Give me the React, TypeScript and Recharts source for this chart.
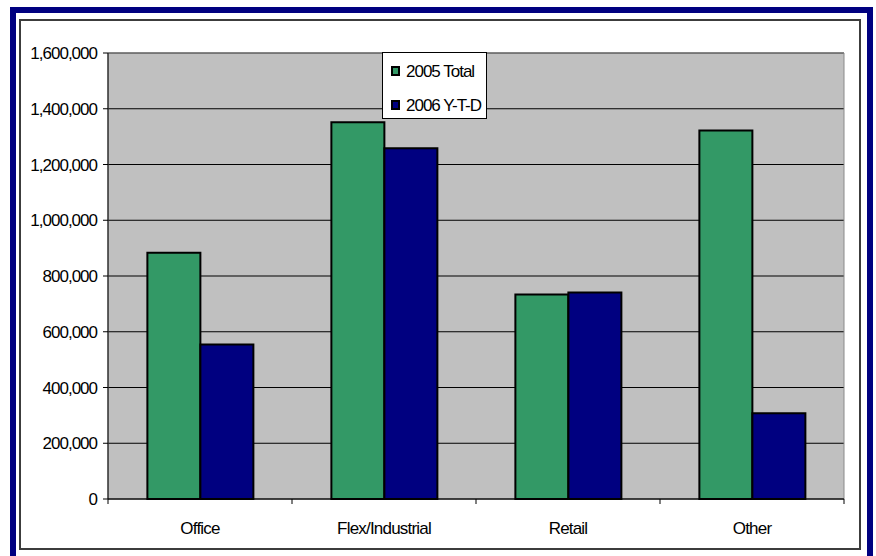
import React from "react";
import {
  BarChart,
  Bar,
  XAxis,
  YAxis,
  CartesianGrid,
  Legend,
  ReferenceArea,
} from "recharts";

const categories = ["Office", "Flex/Industrial", "Retail", "Other"];
const total2005 = [883000, 1352000, 734000, 1322000];
const ytd2006 = [554000, 1258000, 741000, 308000];
const yTicks = [0, 200000, 400000, 600000, 800000, 1000000, 1200000, 1400000, 1600000];
const seriesNames = ["2005 Total", "2006 Y-T-D"];

const COLORS = { total: "#339966", ytd: "#000080" };

const chartData = categories.map((name, i) => ({
  name,
  total: total2005[i],
  ytd: ytd2006[i],
}));

const FONT = '"Liberation Sans", Arial, sans-serif';

// category label in the middle, tick marks on the category edges (Excel style)
function CategoryTick(props: any) {
  const { x, y, payload, index } = props;
  const half = payload && payload.offset ? payload.offset : 92;
  const isLast = index === categories.length - 1;
  return (
    <g>
      <line x1={x - half} y1={y} x2={x - half} y2={y + 5} stroke="#000" />
      {isLast && <line x1={x + half} y1={y} x2={x + half} y2={y + 5} stroke="#000" />}
      <text
        x={x}
        y={y + 29}
        textAnchor="middle"
        dominantBaseline="central"
        fontSize={17}
        letterSpacing={-0.8}
        fill="#000"
        fontFamily={FONT}
      >
        {payload.value}
      </text>
    </g>
  );
}

function LegendBox({ payload }: any) {
  return (
    <div
      style={{
        width: 105,
        height: 67,
        boxSizing: "border-box",
        background: "#fff",
        border: "1px solid #000",
        paddingTop: 1,
        fontFamily: FONT,
      }}
    >
      {(payload || []).map((entry: any) => (
        <div
          key={entry.value}
          style={{ height: 34, display: "flex", alignItems: "center", paddingLeft: 8 }}
        >
          <span
            style={{
              width: 9,
              height: 10,
              boxSizing: "border-box",
              border: "2px solid #000",
              background: entry.color,
              marginRight: 6,
              flexShrink: 0,
            }}
          />
          <span
            style={{
              fontSize: 17,
              letterSpacing: -1,
              color: "#000",
              lineHeight: "17px",
              whiteSpace: "nowrap",
            }}
          >
            {entry.value}
          </span>
        </div>
      ))}
    </div>
  );
}

export default function App() {
  return (
    <div
      style={{
        position: "absolute",
        left: 0,
        top: 0,
        width: 876,
        height: 556,
        overflow: "hidden",
        background: "#fff",
        fontFamily: FONT,
      }}
    >
      <div
        style={{
          position: "absolute",
          left: 10,
          top: 7,
          width: 863,
          height: 570,
          boxSizing: "border-box",
          border: "6px solid #000080",
        }}
      />
      <div
        style={{
          position: "absolute",
          left: 19,
          top: 19,
          width: 842,
          height: 531,
          boxSizing: "border-box",
          border: "2px solid #3c3c3c",
        }}
      />
      <div style={{ position: "absolute", left: 0, top: 0 }}>
        <BarChart
          width={876}
          height={556}
          data={chartData}
          margin={{ top: 53, right: 32, bottom: 0, left: 0 }}
          barCategoryGap="21.4%"
          barGap={0}
        >
          <CartesianGrid
            vertical={false}
            stroke="#000"
            fill="#C0C0C0"
            fillOpacity={1}
          />
          <ReferenceArea y1={0} y2={1600000} fill="none" stroke="#8a8a8a" strokeWidth={1} />
          <XAxis
            dataKey="name"
            height={57}
            tickLine={false}
            tickSize={0}
            tickMargin={0}
            axisLine={{ stroke: "#000" }}
            tick={<CategoryTick />}
            interval={0}
          />
          <YAxis
            width={108}
            domain={[0, 1600000]}
            ticks={yTicks}
            interval={0}
            tickSize={5}
            tickMargin={6}
            axisLine={{ stroke: "#000" }}
            tickLine={{ stroke: "#000" }}
            tickFormatter={(v: number) => v.toLocaleString("en-US")}
            tick={{ fontSize: 17, fill: "#000", letterSpacing: -1, fontFamily: FONT }}
          />
          <Legend
            layout="vertical"
            align="center"
            verticalAlign="middle"
            content={<LegendBox />}
            wrapperStyle={{ position: "absolute", left: 382, top: 52, width: 105, height: 67 }}
          />
          <Bar
            dataKey="total"
            name={seriesNames[0]}
            fill={COLORS.total}
            stroke="#000"
            strokeWidth={2}
            isAnimationActive={false}
          />
          <Bar
            dataKey="ytd"
            name={seriesNames[1]}
            fill={COLORS.ytd}
            stroke="#000"
            strokeWidth={2}
            isAnimationActive={false}
          />
        </BarChart>
      </div>
    </div>
  );
}
